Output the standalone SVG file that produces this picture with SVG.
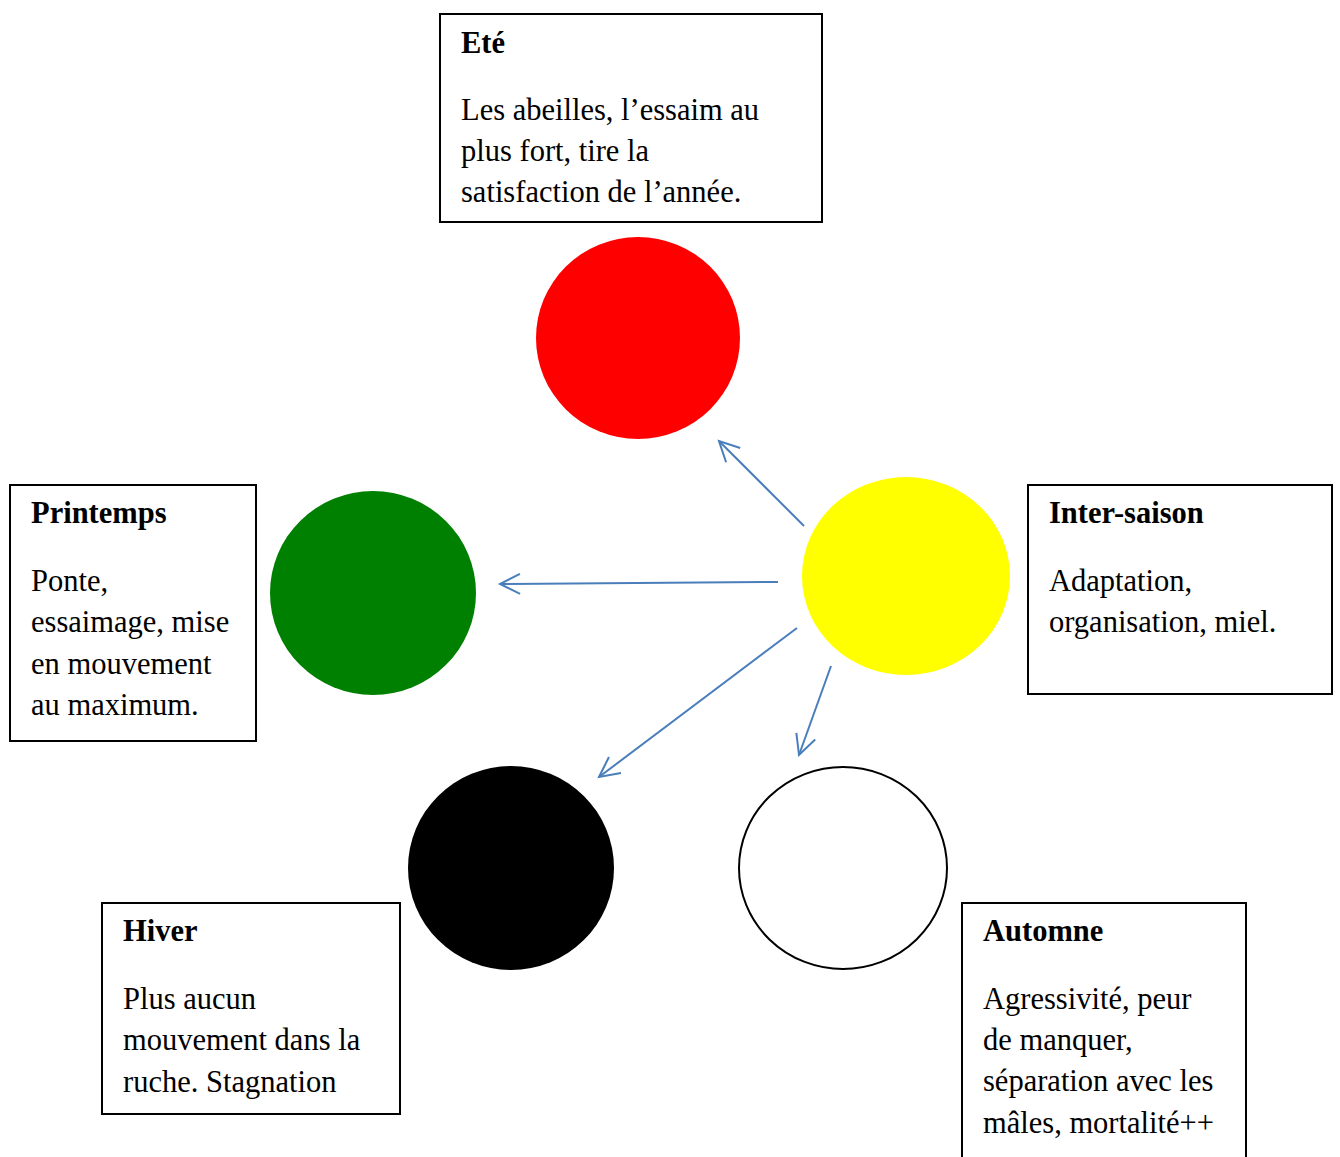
<svg xmlns="http://www.w3.org/2000/svg" width="1340" height="1157" viewBox="0 0 1340 1157">
<defs>
<style>
.box{fill:#fff;stroke:#000;stroke-width:2}
.t{font-family:"Liberation Serif","DejaVu Serif",serif;font-size:30.5px;fill:#000}
.h{font-weight:bold}
.c{stroke:#4a7ebb;stroke-width:2;fill:none}
</style>
<marker id="ah" markerUnits="userSpaceOnUse" markerWidth="30" markerHeight="30" refX="21" refY="12" orient="auto">
<path d="M1,2 L21,12 L1,22" fill="none" stroke="#4a7ebb" stroke-width="2"/>
</marker>
</defs>
<rect width="1340" height="1157" fill="#fff"/>
<g id="connectors">
<line class="c" x1="804" y1="526" x2="719" y2="441" marker-end="url(#ah)"/>
<line class="c" x1="778" y1="582" x2="500" y2="584" marker-end="url(#ah)"/>
<line class="c" x1="797" y1="628" x2="599" y2="777" marker-end="url(#ah)"/>
<line class="c" x1="831" y1="666" x2="799" y2="755" marker-end="url(#ah)"/>
</g>
<g id="circle-ete"><ellipse cx="638" cy="338" rx="102" ry="101" fill="#ff0000"/></g>
<g id="circle-printemps"><ellipse cx="373" cy="593" rx="103" ry="102" fill="#008000"/></g>
<g id="circle-intersaison"><ellipse cx="906" cy="576" rx="104" ry="99" fill="#ffff00"/></g>
<g id="circle-hiver"><ellipse cx="511" cy="868" rx="103" ry="102" fill="#000"/></g>
<g id="circle-automne"><ellipse cx="843" cy="868" rx="104" ry="101" fill="#fff" stroke="#000" stroke-width="2"/></g>
<g id="box-ete">
<rect class="box" x="440" y="14" width="382" height="208"/>
<text class="t h" x="461" y="53">Eté</text>
<text class="t" x="461" y="120">Les abeilles, l’essaim au</text>
<text class="t" x="461" y="161">plus fort, tire la</text>
<text class="t" x="461" y="202">satisfaction de l’année.</text>
</g>
<g id="box-printemps">
<rect class="box" x="10" y="485" width="246" height="256"/>
<text class="t h" x="31" y="523">Printemps</text>
<text class="t" x="31" y="591">Ponte,</text>
<text class="t" x="31" y="632">essaimage, mise</text>
<text class="t" x="31" y="674">en mouvement</text>
<text class="t" x="31" y="715">au maximum.</text>
</g>
<g id="box-intersaison">
<rect class="box" x="1028" y="485" width="304" height="209"/>
<text class="t h" x="1049" y="523">Inter-saison</text>
<text class="t" x="1049" y="591">Adaptation,</text>
<text class="t" x="1049" y="632">organisation, miel.</text>
</g>
<g id="box-hiver">
<rect class="box" x="102" y="903" width="298" height="211"/>
<text class="t h" x="123" y="941">Hiver</text>
<text class="t" x="123" y="1009">Plus aucun</text>
<text class="t" x="123" y="1050">mouvement dans la</text>
<text class="t" x="123" y="1092">ruche. Stagnation</text>
</g>
<g id="box-automne">
<rect class="box" x="962" y="903" width="284" height="270"/>
<text class="t h" x="983" y="941">Automne</text>
<text class="t" x="983" y="1009">Agressivité, peur</text>
<text class="t" x="983" y="1050">de manquer,</text>
<text class="t" x="983" y="1091">séparation avec les</text>
<text class="t" x="983" y="1133">mâles, mortalité++</text>
</g>
</svg>
